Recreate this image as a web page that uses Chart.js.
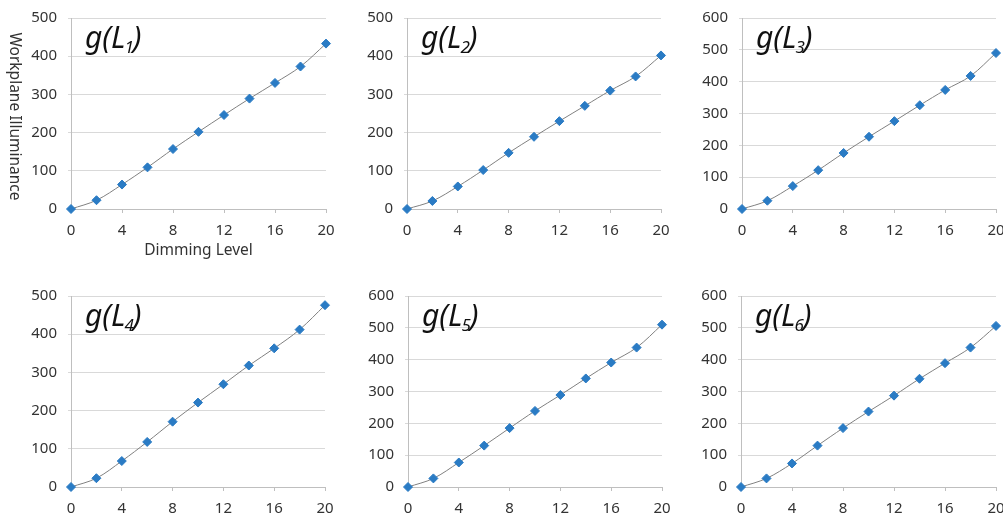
<!DOCTYPE html>
<html>
<head>
<meta charset="utf-8">
<script src="https://cdn.jsdelivr.net/npm/chart.js@4"></script>
<style>
  html, body { margin: 0; padding: 0; background: #fff; overflow: hidden; }
  body { width: 1003px; height: 518px; position: relative; }
  canvas { position: absolute; }
</style>
</head>
<body>
<canvas id="c1" width="340" height="260" style="left:0;top:0"></canvas>
<canvas id="c2" width="330" height="260" style="left:340px;top:0"></canvas>
<canvas id="c3" width="333" height="260" style="left:670px;top:0"></canvas>
<canvas id="c4" width="340" height="258" style="left:0;top:260px"></canvas>
<canvas id="c5" width="330" height="258" style="left:340px;top:260px"></canvas>
<canvas id="c6" width="333" height="258" style="left:670px;top:260px"></canvas>
<script>
const dimming = [0, 2, 4, 6, 8, 10, 12, 14, 16, 18, 20];
const gL1 = [0, 23, 64, 109, 157, 202, 246, 289, 330, 373, 433];
const gL2 = [0, 21, 59, 102, 147, 189, 230, 270, 310, 347, 402];
const gL3 = [0, 26, 72, 122, 176, 227, 276, 326, 374, 418, 490];
const gL4 = [0, 23, 68, 118, 171, 221, 269, 318, 363, 412, 476];
const gL5 = [0, 27, 77, 130, 185, 239, 289, 341, 391, 438, 510];
const gL6 = [0, 27, 74, 130, 185, 237, 287, 340, 389, 438, 506];
const yMaxes = [500, 500, 600, 500, 600, 600];
const xTitle = 'Dimming Level';
const yTitle = 'Workplane Illuminance';

const font = '"Noto Sans", sans-serif';
const tickColor = '#333';

// plot box per canvas: y axis width, x axis height, top/right padding
const boxes = [
  { id: 'c1', yw: 71, xh: 51, top: 18, right: 14 },
  { id: 'c2', yw: 67, xh: 51, top: 18, right: 9 },
  { id: 'c3', yw: 72, xh: 51, top: 18, right: 7 },
  { id: 'c4', yw: 71, xh: 31, top: 36, right: 15 },
  { id: 'c5', yw: 68, xh: 31, top: 36, right: 8 },
  { id: 'c6', yw: 71, xh: 31, top: 36, right: 7 },
];
const series = [gL1, gL2, gL3, gL4, gL5, gL6];

const labelPlugin = (n) => ({
  id: 'gLabel',
  afterDraw(chart) {
    const { ctx, chartArea } = chart;
    let x = chartArea.left + 14;
    const y = chartArea.top + 30;
    ctx.save();
    ctx.fillStyle = '#111';
    ctx.textBaseline = 'alphabetic';
    ctx.font = `italic 30px ${font}`;
    ctx.fillText('g(L', x, y);
    x += ctx.measureText('g(L').width;
    ctx.font = `italic 17px ${font}`;
    ctx.fillText(String(n), x - 1, y + 5);
    x += ctx.measureText(String(n)).width - 2;
    ctx.font = `italic 30px ${font}`;
    ctx.fillText(')', x, y);
    ctx.restore();
  },
});

const yTitlePlugin = {
  id: 'yTitle',
  afterDraw(chart) {
    const { ctx, chartArea } = chart;
    ctx.save();
    ctx.translate(14, (chartArea.top + chartArea.bottom) / 2 + 3);
    ctx.rotate(Math.PI / 2);
    ctx.font = `15.5px ${font}`;
    ctx.fillStyle = tickColor;
    ctx.textAlign = 'center';
    ctx.textBaseline = 'middle';
    ctx.fillText(yTitle, 0, 0);
    ctx.restore();
  },
};

boxes.forEach((b, i) => {
  const plugins = [labelPlugin(i + 1)];
  if (i === 0) plugins.push(yTitlePlugin);
  // eslint-disable-next-line no-new
  new Chart(document.getElementById(b.id), {
    type: 'line',
    data: {
      datasets: [{
        data: dimming.map((d, k) => ({ x: d, y: series[i][k] })),
        borderColor: '#808080',
        borderWidth: 1,
        tension: 0.35,
        pointStyle: 'rectRot',
        pointRadius: 4.5,
        pointBackgroundColor: '#2a7bc4',
        pointBorderColor: '#2a7bc4',
        pointBorderWidth: 1,
        clip: false,
      }],
    },
    options: {
      responsive: false,
      devicePixelRatio: 1,
      animation: false,
      layout: { padding: { top: b.top, right: b.right, left: 0, bottom: 0 } },
      plugins: { legend: { display: false }, tooltip: { enabled: false } },
      scales: {
        x: {
          type: 'linear',
          min: 0,
          max: 20,
          ticks: { stepSize: 4, color: tickColor, font: { family: font, size: 15 }, padding: 9, maxRotation: 0 },
          grid: { drawOnChartArea: false, drawTicks: true, tickLength: 4, color: '#bfbfbf' },
          border: { color: '#bfbfbf' },
          title: { display: i === 0, text: xTitle, color: tickColor, font: { family: font, size: 15.5 }, padding: { top: 2, bottom: 0 } },
          afterFit(s) { s.height = b.xh; s.paddingLeft = 0; s.paddingRight = 0; },
        },
        y: {
          min: 0,
          max: yMaxes[i],
          ticks: { stepSize: 100, color: tickColor, font: { family: font, size: 15 }, padding: 11 },
          grid: { color: '#d9d9d9', drawTicks: true, tickLength: 3 },
          border: { color: '#bfbfbf' },
          afterFit(s) { s.width = b.yw; s.paddingTop = 0; s.paddingBottom = 0; },
        },
      },
    },
    plugins,
  });
});
</script>
</body>
</html>
